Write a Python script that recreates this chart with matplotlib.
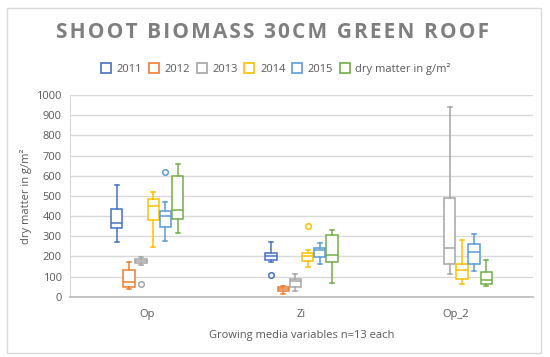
import matplotlib
matplotlib.use('Agg')
import matplotlib.pyplot as plt
from matplotlib.patches import Patch, Rectangle

plt.rcParams['font.family'] = ['Open Sans', 'DejaVu Sans']

categories = ['Op', 'Zi', 'Op_2']
series = ['2011', '2012', '2013', '2014', '2015', 'dry matter in g/m²']
colors = ['#4472c4', '#ed7d31', '#a5a5a5', '#ffc000', '#5b9bd5', '#70ad47']
title = 'SHOOT BIOMASS 30CM GREEN ROOF'

# five-number summaries per series, one value per category (None = no data)
whis_lo = [[270, 170, None], [38, 15, None], [156, 30, 113],
           [245, 146, 63], [276, 162, 127], [314, 68, 53]]
q1 = [[341, 182, None], [47, 27, None], [165, 49, 161],
      [380, 179, 86], [344, 195, 162], [383, 170, 64]]
median = [[367, 203, None], [74, 38, None], [177, 76, 240],
          [448, 204, 130], [399, 232, 220], [428, 206, 82]]
q3 = [[436, 219, None], [131, 49, None], [188, 89, 488],
      [485, 218, 164], [426, 240, 263], [598, 306, 124]]
whis_hi = [[555, 271, None], [170, 55, None], [198, 111, 940],
           [521, 232, 280], [468, 265, 312], [660, 331, 183]]
outliers = [[[], [108], []], [[], [], []], [[63], [], []],
            [[], [350], []], [[620], [], []], [[], [], []]]

fig = plt.figure(figsize=(5.5, 3.57), dpi=100)
ax = fig.add_axes([70 / 550, 1 - 296.7 / 357, 463 / 550, 201.7 / 357])

step = 0.079
width = 0.074
for i, name in enumerate(series):
    stats = []
    pos = []
    for j in range(len(categories)):
        if median[i][j] is None:
            continue
        stats.append(dict(med=median[i][j], q1=q1[i][j], q3=q3[i][j],
                          whislo=whis_lo[i][j], whishi=whis_hi[i][j],
                          fliers=outliers[i][j]))
        pos.append(j + (i - 2.5) * step)
    c = colors[i]
    ax.bxp(stats, positions=pos, widths=width, capwidths=width * 0.35,
           patch_artist=True, manage_ticks=False,
           boxprops=dict(facecolor='white', edgecolor=c, linewidth=1.1),
           medianprops=dict(color=c, linewidth=1.1),
           whiskerprops=dict(color=c, linewidth=1.1),
           capprops=dict(color=c, linewidth=1.1),
           flierprops=dict(marker='o', markersize=4, markerfacecolor='white',
                           markeredgecolor=c, markeredgewidth=1.1))

ax.set_xlim(-0.5, 2.5)
ax.set_ylim(0, 1000)
ax.set_yticks(range(0, 1001, 100))
ax.set_xticks(range(len(categories)), categories)
ax.yaxis.grid(True, color='#d9d9d9', linewidth=1.0)
ax.set_axisbelow(True)
ax.tick_params(length=0, labelsize=8, labelcolor='#595959')
ax.tick_params(axis='y', pad=6)
ax.tick_params(axis='x', pad=9)
for s in ['top', 'right']:
    ax.spines[s].set_visible(False)
ax.spines['bottom'].set_color('#bfbfbf')
ax.spines['bottom'].set_linewidth(1.3)
ax.spines['left'].set_color('#d9d9d9')

ax.set_ylabel('dry matter in g/m²', fontsize=8, color='#595959')
ax.yaxis.set_label_coords(-0.082, 0.5)
ax.set_xlabel('Growing media variables n=13 each', fontsize=8, color='#595959')
ax.xaxis.set_label_coords(0.5, -0.165)

# letter-spaced title (hair spaces between characters)
fig.text(273 / 550, 1 - 32.5 / 357, '\u200a'.join(title), ha='center', va='center',
         fontsize=15, fontweight='bold', color='#7f7f7f')

handles = [Patch(facecolor='white', edgecolor=c, linewidth=1.2) for c in colors]
fig.legend(handles, series, loc='center', bbox_to_anchor=(276 / 550, 1 - 68.8 / 357),
           ncol=6, frameon=False, fontsize=8, labelcolor='#595959',
           handlelength=0.9, handleheight=0.9, handletextpad=0.5, columnspacing=0.6)

fig.patches.append(Rectangle((7 / 550, 1 - 353 / 357), 534 / 550, 345 / 357,
                             transform=fig.transFigure, fill=False,
                             edgecolor='#d9d9d9', linewidth=1.0))

fig.savefig('out.png', dpi=100)
